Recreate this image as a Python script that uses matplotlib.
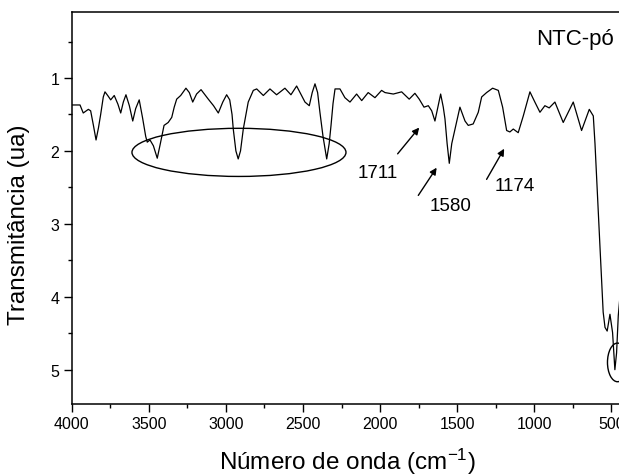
import matplotlib
matplotlib.use('Agg')
import matplotlib.pyplot as plt
from matplotlib.patches import Ellipse
from matplotlib.ticker import MultipleLocator
import numpy as np

plt.rcParams['font.family'] = ['Liberation Sans', 'DejaVu Sans']
plt.rcParams['mathtext.fontset'] = 'custom'
plt.rcParams['mathtext.rm'] = 'Liberation Sans'
plt.rcParams['mathtext.default'] = 'regular'

# FTIR spectrum (wavenumber cm-1, transmittance ua)
wavenumber = [
    3995, 3946, 3925, 3892, 3877, 3859, 3842, 3826, 3812, 3795, 3784, 3763,
    3747, 3724, 3700, 3682, 3665, 3648, 3626, 3604, 3585, 3562, 3540, 3520,
    3510, 3492, 3470, 3445, 3425, 3401, 3374, 3351, 3335, 3319, 3293, 3259,
    3237, 3215, 3190, 3161, 3114, 3080, 3049, 3020, 2995, 2975, 2960, 2952,
    2935, 2920, 2905, 2887, 2870, 2855, 2822, 2800, 2757, 2714, 2671, 2617,
    2578, 2541, 2487, 2459, 2440, 2422, 2405, 2390, 2370, 2346, 2330, 2318,
    2305, 2292, 2260, 2228, 2195, 2152, 2119, 2077, 2033, 1990, 1968, 1914,
    1860, 1811, 1774, 1746, 1715, 1687, 1665, 1644, 1625, 1607, 1590, 1579,
    1565, 1551, 1535, 1514, 1482, 1449, 1428, 1396, 1363, 1341, 1309, 1270,
    1233, 1205, 1179, 1158, 1136, 1104, 1071, 1028, 996, 963, 931, 903, 866,
    812, 747, 693, 643, 617, 606, 595, 574, 553, 541, 527, 509, 492, 477,
    466, 455, 440,
]
transmittance = [
    1.37, 1.37, 1.48, 1.43, 1.45, 1.65, 1.85, 1.68, 1.50, 1.26, 1.19, 1.25,
    1.30, 1.24, 1.36, 1.48, 1.33, 1.23, 1.38, 1.59, 1.42, 1.30, 1.55, 1.80,
    1.88, 1.85, 1.93, 2.10, 1.90, 1.65, 1.61, 1.54, 1.40, 1.29, 1.24, 1.14,
    1.20, 1.33, 1.22, 1.16, 1.29, 1.38, 1.48, 1.33, 1.23, 1.30, 1.50, 1.70,
    2.00, 2.11, 2.00, 1.70, 1.50, 1.33, 1.17, 1.15, 1.24, 1.15, 1.23, 1.14,
    1.23, 1.11, 1.33, 1.38, 1.20, 1.08, 1.20, 1.47, 1.80, 2.11, 1.90, 1.65,
    1.35, 1.15, 1.15, 1.27, 1.33, 1.22, 1.31, 1.20, 1.27, 1.17, 1.20, 1.22,
    1.19, 1.29, 1.21, 1.29, 1.40, 1.38, 1.45, 1.59, 1.40, 1.22, 1.40, 1.56,
    1.90, 2.17, 1.90, 1.70, 1.40, 1.59, 1.65, 1.63, 1.47, 1.26, 1.20, 1.14,
    1.17, 1.40, 1.72, 1.74, 1.70, 1.75, 1.52, 1.19, 1.33, 1.47, 1.38, 1.41,
    1.33, 1.61, 1.33, 1.72, 1.43, 1.52, 1.90, 2.39, 3.30, 4.21, 4.42, 4.47,
    4.24, 4.49, 5.00, 4.77, 4.26, 3.90,
]

# annotations: label, text position, arrow tail, arrow head
peak_labels = ['1711', '1580', '1174']
label_xy = [(2016, 2.29), (1540, 2.75), (1125, 2.47)]
arrow_tail = [(1886, 2.04), (1752, 2.61), (1309, 2.39)]
arrow_head = [(1746, 1.68), (1633, 2.23), (1195, 1.97)]

fig = plt.figure(figsize=(6.19, 4.77), dpi=100)
ax = fig.add_axes([0.1158, 0.151, 0.889, 0.821])

ax.plot(wavenumber, transmittance, color='black', lw=0.9,
        solid_joinstyle='round')

ax.set_xlim(4000, 431)
ax.set_ylim(5.47, 0.1)

ax.xaxis.set_major_locator(MultipleLocator(500))
ax.xaxis.set_minor_locator(MultipleLocator(250))
ax.yaxis.set_major_locator(MultipleLocator(1))
ax.yaxis.set_minor_locator(MultipleLocator(0.5))
ax.tick_params(which='major', direction='out', length=5.5, width=1.0, labelsize=11.5)
ax.tick_params(which='minor', direction='out', length=3, width=1.0)
ax.tick_params(top=False, right=False)
for s in ax.spines.values():
    s.set_linewidth(1.1)

ax.set_xlabel('Número de onda (cm$^{-1}$)', fontsize=17.5, labelpad=10)
ax.set_ylabel('Transmitância (ua)', fontsize=17.5)
ax.yaxis.set_label_coords(-0.076, 0.46)

ax.text(0.985, 0.932, 'NTC-pó', transform=ax.transAxes, ha='right',
        va='center', fontsize=16)

# ellipses marking bands
ax.add_patch(Ellipse((2915, 2.02), 1388, 0.66, fill=False, ec='black', lw=1.0))
ax.add_patch(Ellipse((460, 4.9), 130, 0.53, fill=False, ec='black', lw=1.0))

for lab, txy, tail, head in zip(peak_labels, label_xy, arrow_tail, arrow_head):
    ax.annotate('', xy=head, xytext=tail,
                arrowprops=dict(arrowstyle='-|>', color='black', lw=1.0,
                                mutation_scale=10, shrinkA=0, shrinkB=0))
    ax.text(txy[0], txy[1], lab, ha='center', va='center', fontsize=13.5)

fig.savefig('out.png', dpi=100)
